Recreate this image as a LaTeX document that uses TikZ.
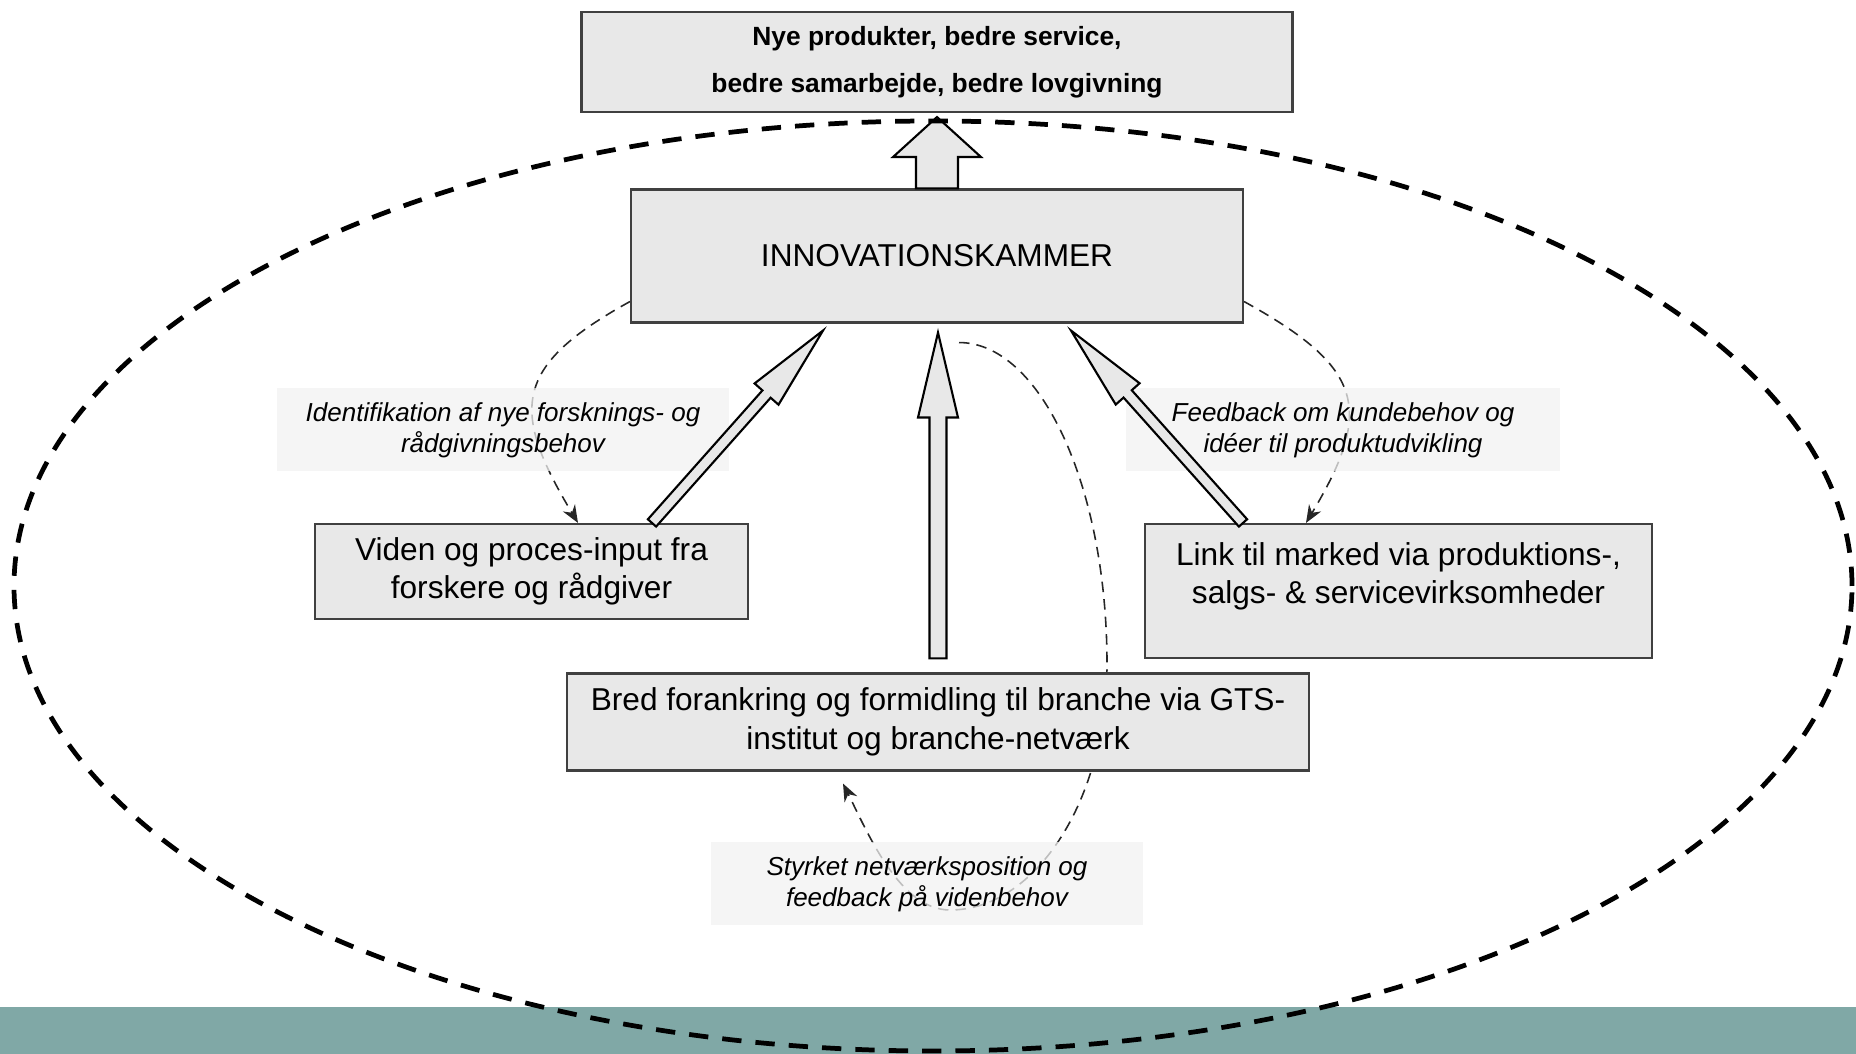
\documentclass[tikz,border=0pt]{standalone}
\usepackage{fontspec}
\setmainfont{Liberation Sans}
\usetikzlibrary{arrows.meta,calc,backgrounds}
\definecolor{boxgray}{RGB}{232,232,232}
\definecolor{labelgray}{RGB}{242,242,242}
\definecolor{bandteal}{RGB}{128,168,166}
\definecolor{edgegray}{RGB}{64,64,64}
\tikzstyle{qbox}=[rectangle, draw=edgegray, line width=0.6pt, fill=boxgray, align=center, inner sep=2pt, font=\fontsize{9}{11}\selectfont]
\tikzstyle{qlabel}=[rectangle, fill=labelgray, fill opacity=0.75, text opacity=1, align=center, inner sep=0pt, minimum height=0.83cm, font=\fontsize{7.4}{8.7}\selectfont\itshape]
\tikzstyle{fatarrow}=[draw=black, line width=0.6pt, fill=boxgray, line join=miter]
\tikzstyle{fbline}=[line width=0.45pt, black!85, dash pattern=on 3pt off 2pt, -{Stealth[length=5pt,width=4pt]}]
\tikzstyle{bigloop}=[line width=1.35pt, dash pattern=on 5.5pt off 4pt]

% from, to, shaft half width, head half width, head length
\newcommand{\hollowarrow}[5]{%
  \path ($(#2)!#5!(#1)$) coordinate (habase);
  \draw[fatarrow] ($(#1)!#3!90:(#2)$) -- ($(habase)!#3!90:(#2)$)
    -- ($(habase)!#4!90:(#2)$) -- (#2)
    -- ($(habase)!#4!-90:(#2)$) -- ($(habase)!#3!-90:(#2)$)
    -- ($(#1)!#3!-90:(#2)$) -- cycle;
}

\begin{document}
\begin{tikzpicture}
  \useasboundingbox (0,0) rectangle (18.56,10.54);

  \node[qbox, minimum width=7.11cm, minimum height=1.00cm,
        font=\fontsize{7.5}{13.4}\selectfont\bfseries] (result) at (9.37,9.92)
        {Nye produkter, bedre service,\\ bedre samarbejde, bedre lovgivning};
  \node[qbox, minimum width=6.12cm, minimum height=1.33cm] (inno) at (9.37,7.98) {INNOVATIONSKAMMER};
  \node[qbox, minimum width=4.33cm, minimum height=0.95cm] (vidbox) at (5.315,4.825)
        {Viden og proces-input fra\\ forskere og rådgiver};
  \node[qbox, minimum width=5.07cm, minimum height=1.34cm] (linkbox) at (13.985,4.63)
        {Link til marked via produktions-,\\ salgs- \& servicevirksomheder\\[-4pt] \strut};
  \node[qbox, minimum width=7.42cm, minimum height=0.97cm] (gtsbox) at (9.38,3.32)
        {Bred forankring og formidling til branche via GTS-\\ institut og branche-netværk};

  \node[qlabel, minimum width=4.52cm] (idlabel) at (5.03,6.24)
        {Identifikation af nye forsknings- og\\ rådgivningsbehov};
  \node[qlabel, minimum width=4.34cm] (fblabel) at (13.43,6.24)
        {Feedback om kundebehov og\\ idéer til produktudvikling};
  \node[qlabel, minimum width=4.32cm] (netlabel) at (9.27,1.70)
        {Styrket netværksposition og\\ feedback på videnbehov};

  \begin{pgfonlayer}{background}
    \fill[bandteal] (0,0) rectangle (18.56,0.47);
    \coordinate (loopstart) at ([xshift=0.22cm,yshift=-0.19cm]inno.south);
    \coordinate (loopright) at (11.07,3.9);
    \coordinate (loopbottom) at (9.5,1.44);
    \draw[fbline] ([yshift=0.22cm]inno.south west) to[out=209,in=121,looseness=1.5] ([xshift=0.465cm]vidbox.north);
    \draw[fbline] ([yshift=0.22cm]inno.south east) to[out=-29,in=59,looseness=1.5] ([xshift=-0.925cm]linkbox.north);
    \draw[fbline] (loopstart) .. controls +(0.81,0) and +(0,1.78) .. (loopright)
      .. controls +(0,-1.35) and +(0.86,0) .. (loopbottom)
      .. controls +(-0.5,0) and +(0.25,-0.5) .. ([xshift=-0.95cm,yshift=-0.12cm]gtsbox.south);
  \end{pgfonlayer}

  \coordinate (upfrom) at (inno.north);
  \coordinate (upto) at ([yshift=-0.04cm]result.south);
  \coordinate (midfrom) at ([yshift=0.14cm]gtsbox.north);
  \coordinate (midto) at ([xshift=0.01cm,yshift=-0.09cm]inno.south);
  \coordinate (leftfrom) at ([xshift=1.205cm]vidbox.north);
  \coordinate (leftto) at ([xshift=-1.14cm,yshift=-0.07cm]inno.south);
  \coordinate (rightfrom) at ([xshift=-1.555cm]linkbox.north);
  \coordinate (rightto) at ([xshift=1.34cm,yshift=-0.07cm]inno.south);
  \hollowarrow{upfrom}{upto}{0.21cm}{0.44cm}{0.40cm}
  \hollowarrow{midfrom}{midto}{0.085cm}{0.2cm}{0.85cm}
  \hollowarrow{leftfrom}{leftto}{0.055cm}{0.16cm}{0.85cm}
  \hollowarrow{rightfrom}{rightto}{0.055cm}{0.16cm}{0.85cm}

  \draw[bigloop] (9.33,4.68) ellipse [x radius=9.19, y radius=4.65];
  %\draw[red] (0,0) grid (18,10);
\end{tikzpicture}
\end{document}
